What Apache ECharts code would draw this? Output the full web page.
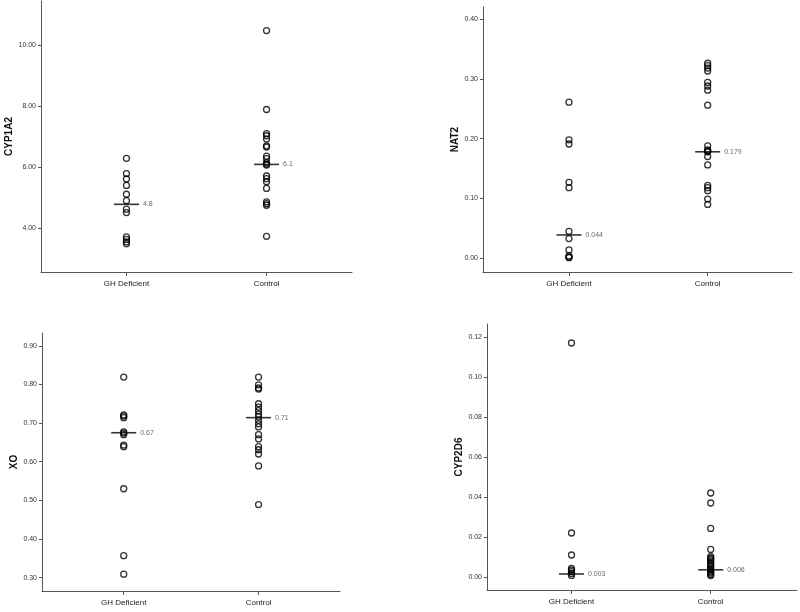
<!DOCTYPE html>
<html>
<head>
<meta charset="utf-8">
<script src="https://cdn.jsdelivr.net/npm/echarts@6/dist/echarts.min.js"></script>
<style>
  html, body { margin: 0; padding: 0; background: #fff; }
  #chart { width: 800px; height: 612px; }
</style>
</head>
<body>
<div id="chart"></div>
<script>
// ---- Data ----
const groups = ["GH Deficient", "Control"];

const cyp1a2GH = [6.29, 5.79, 5.61, 5.40, 5.11, 4.90, 4.62, 4.51, 3.71, 3.63, 3.55, 3.49];
const cyp1a2Control = [10.48, 7.89, 7.10, 7.03, 6.92, 6.70, 6.66, 6.36, 6.28, 6.15, 6.10, 6.07, 5.71, 5.62, 5.52, 5.30, 4.86, 4.80, 4.75, 3.73];
const cyp1a2Median = [4.78, 6.09];
const cyp1a2MedianLabels = ["4.8", "6.1"];
const cyp1a2Ticks = [4, 6, 8, 10];

const nat2GH = [0.261, 0.198, 0.191, 0.127, 0.118, 0.045, 0.033, 0.014, 0.004, 0.002, 0.001];
const nat2Control = [0.326, 0.322, 0.318, 0.313, 0.294, 0.288, 0.281, 0.256, 0.188, 0.181, 0.179, 0.178, 0.170, 0.156, 0.122, 0.118, 0.113, 0.099, 0.090];
const nat2Median = [0.039, 0.178];
const nat2MedianLabels = ["0.044", "0.179"];
const nat2Ticks = [0, 0.1, 0.2, 0.3, 0.4];

const xoGH = [0.819, 0.721, 0.718, 0.714, 0.677, 0.674, 0.670, 0.643, 0.639, 0.530, 0.357, 0.309];
const xoControl = [0.819, 0.799, 0.791, 0.788, 0.750, 0.741, 0.732, 0.723, 0.716, 0.707, 0.698, 0.690, 0.670, 0.659, 0.639, 0.631, 0.620, 0.589, 0.489];
const xoMedian = [0.675, 0.714];
const xoMedianLabels = ["0.67", "0.71"];
const xoTicks = [0.3, 0.4, 0.5, 0.6, 0.7, 0.8, 0.9];

const cyp2d6GH = [0.117, 0.022, 0.011, 0.0043, 0.0035, 0.0027, 0.0018, 0.0008];
const cyp2d6Control = [0.042, 0.037, 0.0243, 0.0138, 0.0102, 0.0095, 0.0088, 0.0080, 0.0068, 0.0060, 0.0052, 0.0043, 0.0035, 0.0028, 0.0020, 0.0013, 0.0007];
const cyp2d6Median = [0.0015, 0.0036];
const cyp2d6MedianLabels = ["0.003", "0.006"];
const cyp2d6Ticks = [0, 0.02, 0.04, 0.06, 0.08, 0.1, 0.12];

// ---- Layout ----
const panels = [
  { name: "CYP1A2", gh: cyp1a2GH, ctl: cyp1a2Control, med: cyp1a2Median, medL: cyp1a2MedianLabels, ticks: cyp1a2Ticks,
    grid: { left: 41, top: 1, width: 311, height: 271 }, yMin: 2.56, yMax: 11.45, xMin: -0.61, xMax: 1.61 },
  { name: "NAT2", gh: nat2GH, ctl: nat2Control, med: nat2Median, medL: nat2MedianLabels, ticks: nat2Ticks,
    grid: { left: 483, top: 7, width: 309, height: 265 }, yMin: -0.0229, yMax: 0.42, xMin: -0.62, xMax: 1.608 },
  { name: "XO", gh: xoGH, ctl: xoControl, med: xoMedian, medL: xoMedianLabels, ticks: xoTicks,
    grid: { left: 42, top: 333, width: 298, height: 258 }, yMin: 0.2655, yMax: 0.933, xMin: -0.606, xMax: 1.604 },
  { name: "CYP2D6", gh: cyp2d6GH, ctl: cyp2d6Control, med: cyp2d6Median, medL: cyp2d6MedianLabels, ticks: cyp2d6Ticks,
    grid: { left: 487, top: 324, width: 310, height: 266 }, yMin: -0.0065, yMax: 0.1265, xMin: -0.607, xMax: 1.62 }
];

const FONT = "Liberation Sans, Arial, sans-serif";
const axisColor = "#555";

const option = {
  animation: false,
  backgroundColor: "#fff",
  grid: [], xAxis: [], yAxis: [], series: []
};

panels.forEach((p, i) => {
  option.grid.push(Object.assign({ containLabel: false }, p.grid));
  option.xAxis.push({
    type: "value", gridIndex: i, min: p.xMin, max: p.xMax,
    axisLine: { show: true, onZero: false, lineStyle: { color: axisColor, width: 1 } },
    axisTick: { show: true, customValues: [0, 1], length: 4, lineStyle: { color: axisColor } },
    axisLabel: { show: true, customValues: [0, 1], margin: 8, fontSize: 8, color: "#222", fontFamily: FONT,
      formatter: v => groups[Math.round(v)] },
    splitLine: { show: false }
  });
  option.yAxis.push({
    type: "value", gridIndex: i, min: p.yMin, max: p.yMax,
    name: p.name, nameLocation: "middle", nameGap: 22,
    nameTextStyle: { fontSize: 10, fontWeight: "bold", color: "#111", fontFamily: FONT },
    axisLine: { show: true, onZero: false, lineStyle: { color: axisColor, width: 1 } },
    axisTick: { show: true, customValues: p.ticks, length: 3, lineStyle: { color: axisColor } },
    axisLabel: { show: true, customValues: p.ticks, margin: 5, fontSize: 7, color: "#333", fontFamily: FONT,
      formatter: v => v.toFixed(2) },
    splitLine: { show: false }
  });
  const circleStyle = { color: "rgba(0,0,0,0)", borderColor: "#000", borderWidth: 1.3 };
  option.series.push({
    type: "scatter", xAxisIndex: i, yAxisIndex: i, symbol: "circle", symbolSize: 6,
    itemStyle: circleStyle, data: p.gh.map(v => [0, v])
  });
  option.series.push({
    type: "scatter", xAxisIndex: i, yAxisIndex: i, symbol: "circle", symbolSize: 6,
    itemStyle: circleStyle, data: p.ctl.map(v => [1, v])
  });
  option.series.push({
    type: "scatter", xAxisIndex: i, yAxisIndex: i, symbol: "rect", symbolSize: [25, 1.6],
    itemStyle: { color: "#000" }, z: 3,
    label: { show: true, position: "right", distance: 4, fontSize: 7, color: "#444", fontFamily: FONT,
      formatter: prm => p.medL[prm.dataIndex] },
    data: p.med.map((v, k) => [k, v])
  });
});

const chart = echarts.init(document.getElementById("chart"), null, { renderer: "canvas" });
chart.setOption(option);
</script>
</body>
</html>
